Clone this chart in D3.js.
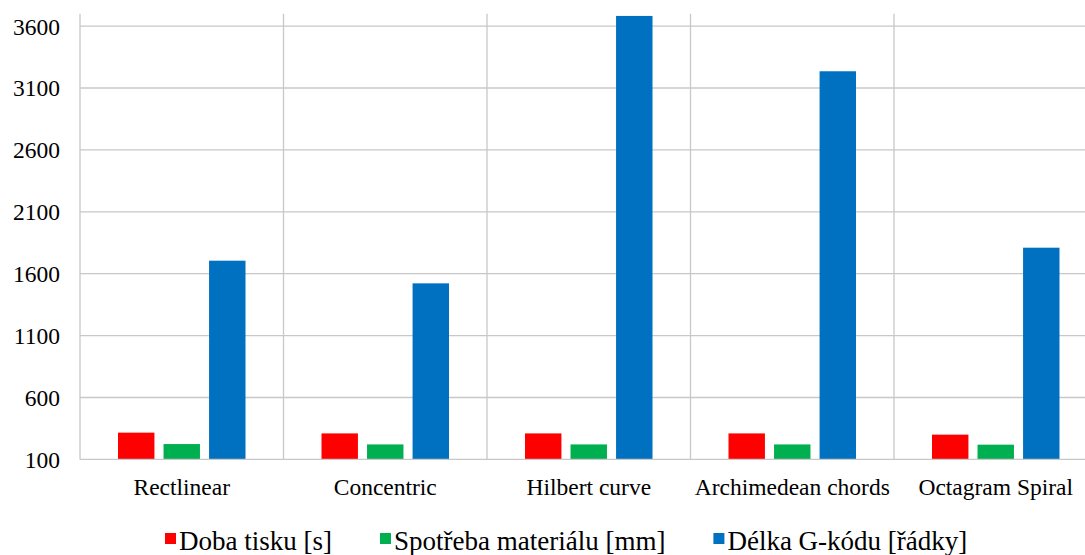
<!DOCTYPE html>
<html><head><meta charset="utf-8">
<script src="https://cdn.jsdelivr.net/npm/d3@7"></script>
<style>body{margin:0;background:#fff}svg{display:block}text{font-family:"Liberation Serif","Times New Roman",serif;fill:#000}</style>
</head><body>
<svg id="c" width="1085" height="555"></svg>
<script>
const categories = ["Rectlinear", "Concentric", "Hilbert curve", "Archimedean chords", "Octagram Spiral"];
const seriesNames = ["Doba tisku [s]", "Spotřeba materiálu [mm]", "Délka G-kódu [řádky]"];
const dobaTisku = [316, 310, 310, 310, 300];
const spotrebaMaterialu = [224, 221, 221, 221, 219];
const delkaGkodu = [1705, 1522, 3682, 3235, 1810];
const colors = ["#ff0000", "#00b050", "#0070c0"];
const yTicks = [100, 600, 1100, 1600, 2100, 2600, 3100, 3600];

(function () {
const seriesValues = [dobaTisku, spotrebaMaterialu, delkaGkodu];
const svg = d3.select("#c");
const pLeft = 80, pRight = 1097.5, pTop = 13.7, pBottom = 459.4;
const ff = "'Liberation Serif', 'Times New Roman', serif";

const y = d3.scaleLinear().domain([100, 3700]).range([pBottom, pTop]);
const x0 = d3.scaleBand().domain(categories).range([pLeft, pRight]).padding(0);
const bw = x0.bandwidth();
const x1 = d3.scaleBand().domain(seriesNames).range([38, bw - 38]).paddingInner(0.2).paddingOuter(0);

const grid = "#c8c8c8";
svg.append("g").selectAll("line").data(yTicks.slice(1)).join("line")
  .attr("x1", pLeft).attr("x2", pRight)
  .attr("y1", d => y(d)).attr("y2", d => y(d))
  .attr("stroke", grid).attr("stroke-width", 1.3);
const seps = categories.map(c => x0(c)).concat([pRight]);
svg.append("g").selectAll("line").data(seps).join("line")
  .attr("x1", d => d).attr("x2", d => d)
  .attr("y1", pTop).attr("y2", pBottom)
  .attr("stroke", grid).attr("stroke-width", 1.3);

const groups = svg.append("g").selectAll("g").data(categories).join("g")
  .attr("transform", c => `translate(${x0(c)},0)`);
groups.selectAll("rect").data((c, i) => seriesNames.map((s, j) => ({s, j, v: seriesValues[j][i]}))).join("rect")
  .attr("x", d => x1(d.s)).attr("width", x1.bandwidth())
  .attr("y", d => y(d.v)).attr("height", d => y(100) - y(d.v))
  .attr("fill", d => colors[d.j]);

svg.append("line").attr("x1", pLeft).attr("x2", pRight).attr("y1", pBottom).attr("y2", pBottom)
  .attr("stroke", grid).attr("stroke-width", 1.3);

const yAxis = d3.axisLeft(y).tickValues(yTicks).tickFormat(d3.format("d")).tickSize(0).tickPadding(0);
const ya = svg.append("g").attr("transform", "translate(60,0)").call(yAxis)
  .attr("font-family", ff).attr("font-size", 23.5);
ya.select(".domain").remove();
ya.selectAll("text").attr("dy", "0.34em").attr("x", 0);

const xAxis = d3.axisBottom(x0).tickSize(0).tickPadding(0);
const xa = svg.append("g").attr("transform", "translate(0,495)").call(xAxis)
  .attr("font-family", ff).attr("font-size", 23.5);
xa.select(".domain").remove();
xa.selectAll("text").attr("dy", 0).attr("y", 0);

const lg = svg.append("g").attr("font-family", ff);
let lx = 165;
seriesNames.forEach((s, j) => {
  lg.append("rect").attr("x", lx).attr("y", 533).attr("width", 11).attr("height", 11).attr("fill", colors[j]);
  const t = lg.append("text").attr("x", lx + 14).attr("y", 549.5).style("font-size", "27px").text(s);
  lx = lx + 14 + t.node().getComputedTextLength() + 48;
});
})();
</script>
</body></html>
